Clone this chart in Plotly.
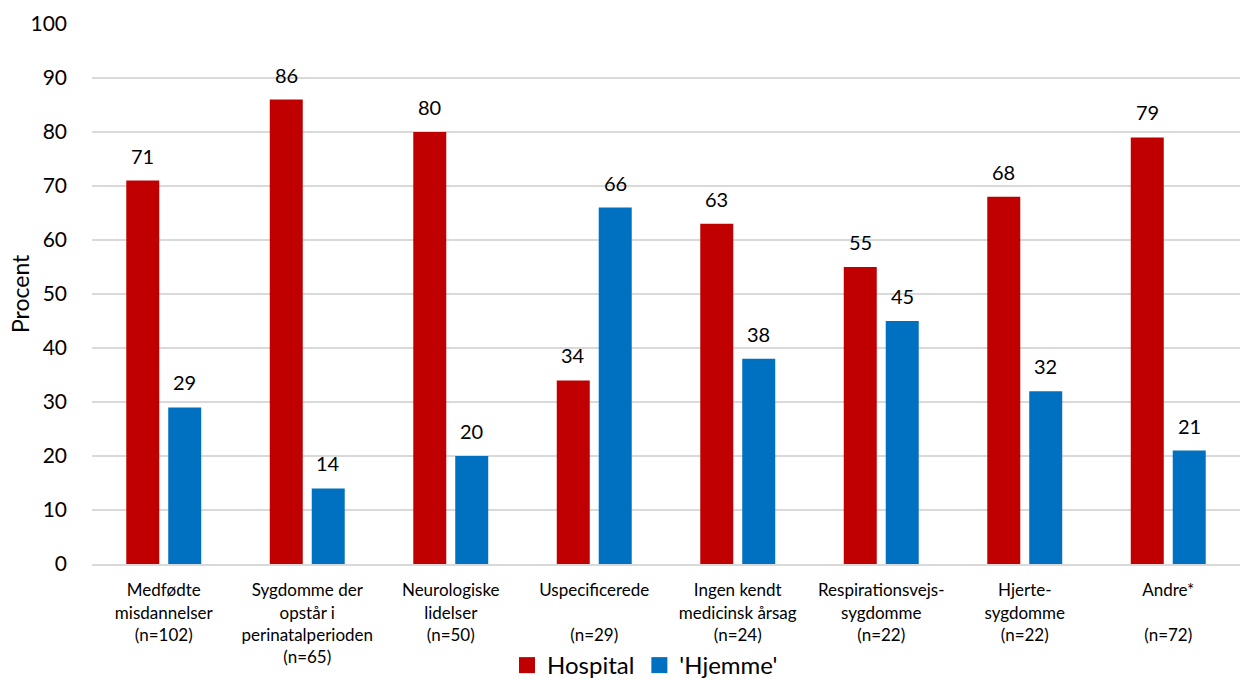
import plotly.graph_objects as go

categories = [
    "Medfødte<br>misdannelser<br>(n=102)",
    "Sygdomme der<br>opstår i<br>perinatalperioden<br>(n=65)",
    "Neurologiske<br>lidelser<br>(n=50)",
    "Uspecificerede<br> <br>(n=29)",
    "Ingen kendt<br>medicinsk årsag<br>(n=24)",
    "Respirationsvejs-<br>sygdomme<br>(n=22)",
    "Hjerte-<br>sygdomme<br>(n=22)",
    "Andre*<br> <br>(n=72)",
]
hospital = [71, 86, 80, 34, 63, 55, 68, 79]
hjemme = [29, 14, 20, 66, 38, 45, 32, 21]
y_ticks = [0, 10, 20, 30, 40, 50, 60, 70, 80, 90, 100]

FONT = "Lato, 'Open Sans', sans-serif"
RED = "#C00000"
BLUE = "#0070C0"

fig = go.Figure()
fig.add_trace(go.Bar(x=categories, y=hospital, name="Hospital",
                     marker=dict(color=RED, line=dict(width=0)), showlegend=False))
fig.add_trace(go.Bar(x=categories, y=hjemme, name="'Hjemme'",
                     marker=dict(color=BLUE, line=dict(width=0)), showlegend=False))

# legend entries with larger square symbols
fig.add_trace(go.Scatter(x=[None], y=[None], mode="markers", name="Hospital",
                         marker=dict(symbol="square", size=16, color=RED)))
fig.add_trace(go.Scatter(x=[None], y=[None], mode="markers", name="'Hjemme'",
                         marker=dict(symbol="square", size=16, color=BLUE)))

# data labels
for series, shift in ((hospital, -21), (hjemme, 21)):
    for cat, val in zip(categories, series):
        fig.add_annotation(x=cat, y=val, xref="x", yref="y", text=str(val),
                           showarrow=False, xshift=shift, yshift=25, yanchor="middle",
                           font=dict(size=20, family=FONT, color="#000000"))

fig.add_annotation(x=-0.0627, y=0.5, xref="paper", yref="paper", text="Procent",
                   textangle=-90, showarrow=False, xanchor="center", yanchor="middle",
                   font=dict(size=23, family=FONT, color="#000000"))

fig.update_layout(
    width=1245, height=679,
    barmode="group", bargap=0.415, bargroupgap=0.214,
    plot_bgcolor="white", paper_bgcolor="white",
    margin=dict(l=92, r=5, t=24, b=115, autoexpand=False),
    font=dict(family=FONT, color="#000000"),
    showlegend=True,
    legend=dict(orientation="h", x=0.4817, xanchor="center", y=-0.188, yanchor="middle",
                font=dict(size=24, family=FONT), traceorder="normal",
                itemsizing="trace", bgcolor="rgba(0,0,0,0)"),
    xaxis=dict(showline=True, linecolor="#D9D9D9", linewidth=2, automargin=False,
               tickfont=dict(size=17, family=FONT), ticks="", ticklabelstandoff=10),
    yaxis=dict(range=[0, 100], tickvals=y_ticks, showgrid=True, gridcolor="#D9D9D9",
               gridwidth=2, zeroline=False, automargin=False,
               tickfont=dict(size=21, family=FONT), ticklabelstandoff=24),
)

fig.write_html("out.html", config={"displayModeBar": False},
               post_script="document.body.style.margin='0';document.body.style.overflow='hidden';")
